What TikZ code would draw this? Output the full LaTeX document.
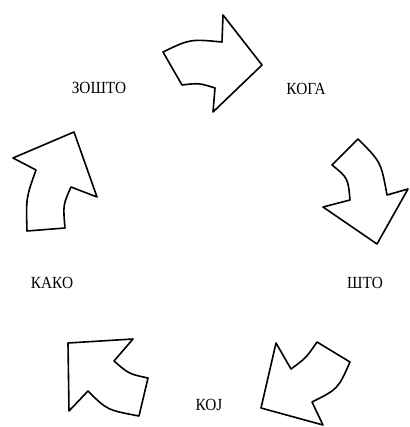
\documentclass[tikz,border=0pt]{standalone}
\usepackage{fontspec}
\setmainfont{Liberation Serif}
\newfontfamily\wordfont[FakeStretch=0.9]{Liberation Serif}

\begin{document}
\begin{tikzpicture}[
  x=1pt, y=-1pt,
  blockarrow/.style={draw=black, line width=1.6pt, line join=round, fill=white},
  word/.style={font=\wordfont\fontsize{17}{17}\selectfont, inner sep=0pt},
]
\useasboundingbox (0,0) rectangle (409,427);

% ---- the five question words ---------------------------------------
\node[word] (zoshto) at (99,88)  {ЗОШТО};
\node[word] (koga)   at (306,89) {КОГА};
\node[word] (shto)   at (365,283) {ШТО};
\node[word] (koj)    at (209,405) {КОЈ};
\node[word] (kako)   at (52,283) {КАКО};

% ---- curved block arrows, clockwise ---------------------------------
% top: from zoshto to koga
\draw[blockarrow] (163,52) .. controls (190,39) .. (222,42) -- (223,15)
  -- (262,65) -- (213,112) -- (215,88) .. controls (199,83) .. (182,85)
  -- cycle;
% right: from koga to shto
\draw[blockarrow] (332,165) .. controls (348,178) .. (350,200) -- (323,207)
  -- (377,244) -- (408,189) -- (387,195) .. controls (381,162) .. (358,139)
  -- cycle;
% bottom right: from shto to koj
\draw[blockarrow] (276,343) -- (291,369) .. controls (306,358) .. (317,342)
  -- (350,362) .. controls (338,389) .. (312,402) -- (323,425) -- (261,408)
  -- cycle;
% bottom left: from koj to kako
\draw[blockarrow] (68,343) -- (133,339) -- (114,361)
  .. controls (129,374) .. (148,378) -- (139,416)
  .. controls (107,410) .. (88,391) -- (69,411) -- cycle;
% left: from kako to zoshto
\draw[blockarrow] (74,132) -- (97,197) -- (71,187)
  .. controls (63,205) .. (65,228) -- (27,231)
  .. controls (26,198) .. (36,170) -- (13,158) -- cycle;

\end{tikzpicture}
\end{document}
